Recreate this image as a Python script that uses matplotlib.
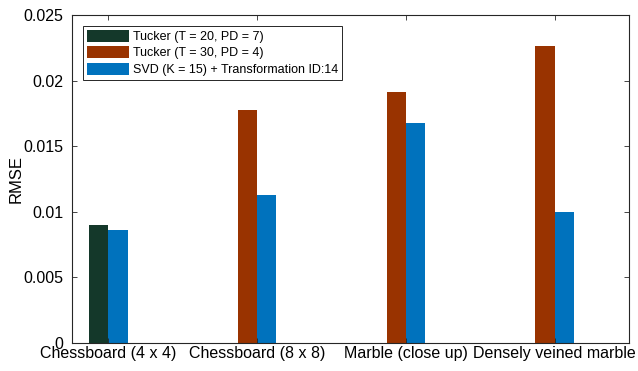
#!/usr/bin/env python3

import numpy as np
import matplotlib
matplotlib.use('Agg')
import matplotlib.pyplot as plt
from matplotlib.patches import Patch

plt.rcParams['font.family'] = ['Liberation Sans', 'DejaVu Sans']

categories = ['Chessboard (4 x 4)', 'Chessboard (8 x 8)',
              'Marble (close up)', 'Densely veined marble']
# first column: Tucker result (T = 20 for the first image, T = 30 for the rest)
tucker = [0.00899, 0.01774, 0.01910, 0.02264]
svd = [0.00861, 0.01126, 0.01677, 0.00996]

labels = ['Tucker (T = 20, PD = 7)', 'Tucker (T = 30, PD = 4)',
          'SVD (K = 15) + Transformation ID:14']
green = '#14382A'
orange = '#993300'
blue = '#0072BD'
axcol = '#262626'

fig = plt.figure(figsize=(6.38, 3.71), dpi=100)
ax = fig.add_axes([72/638, 1 - 343/371, (629 - 72)/638, (343 - 15)/371])

x = np.arange(1, len(categories) + 1)
w = 0.13
tucker_colors = [green] + [orange]*(len(categories) - 1)
ax.bar(x - w/2, tucker, w, color=tucker_colors, edgecolor='none')
ax.bar(x + w/2, svd, w, color=blue, edgecolor='none')

ax.set_xlim(0.756, 4.5)
ax.set_ylim(0, 0.025)
ax.set_xticks(x)
ax.set_xticklabels(categories, fontsize=11.5)
ax.set_yticks([0, 0.005, 0.01, 0.015, 0.02, 0.025])
ax.set_yticklabels(['0', '0.005', '0.01', '0.015', '0.02', '0.025'], fontsize=11.5)
ax.set_ylabel('RMSE', fontsize=12, labelpad=0)

ax.tick_params(direction='in', top=True, right=True, length=3.5, width=0.6,
               color=axcol, labelcolor='black')
ax.tick_params(axis='y', pad=6)
ax.tick_params(axis='x', pad=2)
for s in ax.spines.values():
    s.set_color(axcol)
    s.set_linewidth(0.8)

handles = [Patch(facecolor=c, edgecolor='none') for c in [green, orange, blue]]
leg = fig.legend(handles, labels, loc='upper left',
                 bbox_to_anchor=(83/638, 1 - 26/371), borderaxespad=0,
                 fontsize=9, handlelength=3.4, handleheight=1.1,
                 handletextpad=0.3, labelspacing=0.25, borderpad=0.3,
                 fancybox=False, framealpha=1, edgecolor=axcol)
leg.get_frame().set_linewidth(0.7)

plt.savefig('out.png', dpi=100)
